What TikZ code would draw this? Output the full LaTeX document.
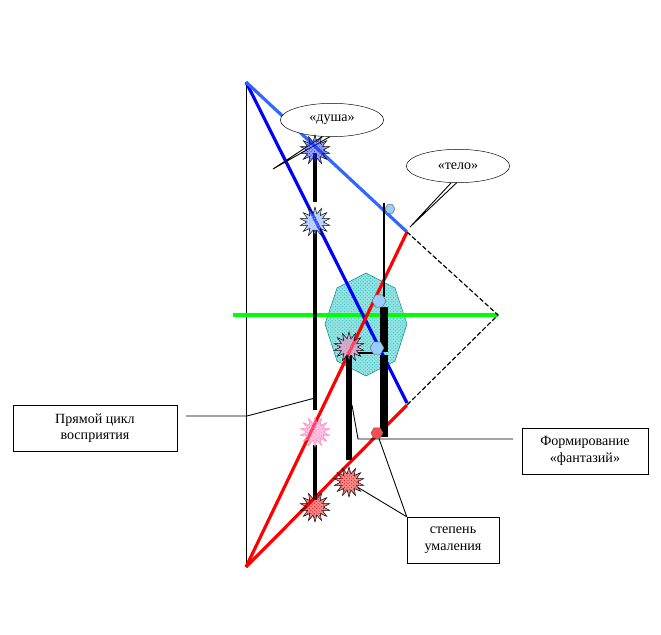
\documentclass[tikz,border=0pt]{standalone}
\usepackage{fontspec}
\setmainfont{Liberation Serif}
\usepackage{xcolor}
\usetikzlibrary{shapes.geometric,patterns}

\definecolor{skyline}{RGB}{51,102,255}
\definecolor{paleblue}{RGB}{153,204,255}
\definecolor{soulblue}{RGB}{30,50,240}
\definecolor{fantpink}{RGB}{255,130,190}
\definecolor{octfill}{RGB}{150,228,228}
\definecolor{octdots}{RGB}{40,185,185}

\begin{document}
\begin{tikzpicture}
            [x=0.03cm,y=-0.03cm,font=\fontsize{12}{14}\selectfont,
             ray/.style={line width=2.7pt},
             bar/.style={line width=#1, black},
             burst/.style={star, star points=14, star point ratio=1.8, minimum size=0.9cm, inner sep=0pt,
                           draw=black, preaction={fill=#1, fill opacity=0.45}, pattern=crosshatch dots, pattern color=#1},
             dot/.style={regular polygon, regular polygon sides=6, minimum size=#1, inner sep=0pt, draw=black!60, fill=paleblue},
             cloud/.style={ellipse, draw, fill=white, minimum height=1cm, minimum width=3.1cm},
             box/.style={draw, fill=white, align=center, minimum height=1.38cm},
             lead/.style={line width=0.75pt}]
            \useasboundingbox (0,0) rectangle (661,635);

            % vertices
            \coordinate (apexT) at (246,82);
            \coordinate (apexB) at (246,567);
            \coordinate (tip) at (498,315);
            \coordinate (redTop) at (407,232);
            \coordinate (redLow) at (407,405);
            \coordinate (blueEnd) at (407,403);
            \coordinate (greenL) at (233,315);

            % zone of fantasies
            \draw[teal, preaction={fill=octfill}, pattern=crosshatch dots, pattern color=octdots]
                (366,273) -- (395,288) -- (407,324) -- (395,361)
                -- (366,376) -- (337,361) -- (325,324) -- (337,288) -- cycle;

            \draw[lead] (apexT) -- (apexB);
            \draw[ray, green] (greenL) -- (tip);
            \draw[ray, blue] (apexT) -- (blueEnd);
            \draw[ray, skyline] (apexT) -- (redTop);
            \foreach \to in {redTop, redLow}
            \draw[ray, red] (apexB) -- (\to);
            \draw[line width=1pt, dash pattern=on 4pt off 2pt] (redTop) -- (tip) -- (redLow);

            % bars
            \foreach \x/\ya/\yb/\w in {315/153/202/4pt, 315/230/410/4pt, 315/445/500/4pt, 349/355/460/5.5pt,
                                        384/203/297/2.5pt, 384/307/352/6pt, 384/355/437/6pt}
            \draw[bar=\w] (\x,\ya) -- (\x,\yb);
            \draw[bar=2.5pt] (358,353) -- (378,353);

            % callouts
            \node[cloud] (soul) at (332,120) {«душа»};
            \node[cloud] (body) at (458,166) {«тело»};
            \coordinate (soulTip) at (273,169);
            \coordinate (bodyTip) at (410,227);
            \draw[lead] (soul.240) -- (soulTip) -- (soul.262);
            \draw[lead] (body.248) -- (bodyTip) -- (body.265);

            % stars
            \node[burst=soulblue] (s1) at (315,150) {};
            \node[burst=paleblue!80!blue] (s2) at (315,222) {};
            \node[burst=fantpink] (s3) at (349,347) {};
            \node[burst=fantpink, draw=fantpink] (s4) at (315,432) {};
            \node[burst=red!90!black] (s5) at (315,507) {};
            \node[burst=red!90!black] (s6) at (349,482) {};

            \node[dot=0.3cm] (p1) at (390,209) {};
            \node[dot=0.42cm] (p2) at (379,301) {};
            \node[dot=0.42cm] (p3) at (377,348) {};
            \node[dot=0.36cm, fill=red!70] (p4) at (377,433) {};

            % labels
            \node[box, minimum width=4.92cm] (cycle) at (95,428) {Прямой цикл\\восприятия};
            \node[box, minimum width=3.78cm] (fant) at (585,451) {Формирование\\«фантазий»};
            \node[box, minimum width=2.76cm] (degree) at (453,540) {степень\\умаления};

            \coordinate (cycleEnd) at (186,416);
            \coordinate (fantEnd) at (513,439);
            \draw[lead] (cycleEnd) -- (247,416) -- (315,398);
            \draw[lead] (fantEnd) -- (358,439) -- (352,405);
            \draw[lead] (degree.north west) -- (p4);
            \draw[lead] (degree.north west) -- (s6);
          \end{tikzpicture}
\end{document}
